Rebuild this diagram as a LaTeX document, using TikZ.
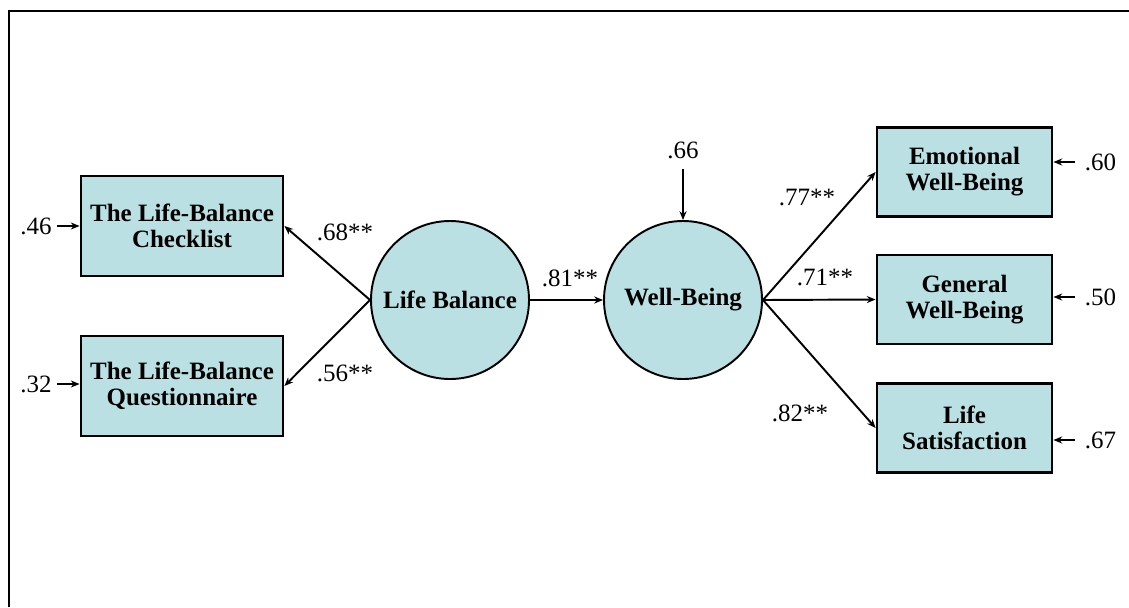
\documentclass[tikz,border=0pt]{standalone}
\usepackage{fontspec}
\setmainfont{Liberation Serif}
\usetikzlibrary{arrows.meta}
\definecolor{boxfill}{RGB}{187,224,227}

\begin{document}
\begin{tikzpicture}[>={Stealth[length=5pt,width=4pt]},
  font=\fontsize{14.2pt}{14.8pt}\selectfont,
  obs/.style={draw, line width=1.6pt, fill=boxfill, rectangle, align=center, inner sep=0pt,
    font=\fontsize{14.2pt}{14.8pt}\selectfont\bfseries},
  lat/.style={draw, line width=1.1pt, fill=boxfill, circle, minimum size=3.16cm, inner sep=0pt,
    font=\fontsize{14.2pt}{14.8pt}\selectfont\bfseries},
  link/.style={->, line width=1.1pt},
  err/.style={->, line width=0.8pt}]
\useasboundingbox (0,0) rectangle (22.58,12.14);

% frame
\draw[line width=1.2pt] (0.18,0) -- (0.18,11.92) -- (22.58,11.92);

% indicators
\node[obs, minimum width=4.04cm, minimum height=2cm] (chk) at (3.64,7.62) {The Life-Balance\\Checklist};
\node[obs, minimum width=4.04cm, minimum height=2cm] (qst) at (3.64,4.42) {The Life-Balance\\Questionnaire};
\node[obs, minimum width=3.5cm, minimum height=1.78cm] (emo) at (19.29,8.70) {Emotional\\Well-Being};
\node[obs, minimum width=3.5cm, minimum height=1.78cm] (gen) at (19.29,6.15) {General\\Well-Being};
\node[obs, minimum width=3.5cm, minimum height=1.78cm] (sat) at (19.29,3.58) {Life\\Satisfaction};

% latent variables
\node[lat] (lb) at (9.0,6.14) {Life Balance};
\node[lat] (wb) at (13.66,6.14) {Well-Being};

\draw[link] (lb.west) -- (chk.east);
\draw[link] (lb.west) -- (qst.east);
\draw[link] (lb) -- (wb);
\draw[link] (wb.east) -- (emo.west);
\draw[link] (wb.east) -- (gen.west);
\draw[link] (wb.east) -- (sat.west);

% loadings
\node (l68) at (6.9,7.5) {.68**};
\node (l56) at (6.9,4.68) {.56**};
\node (l81) at (11.4,6.58) {.81**};
\node (l77) at (16.14,8.18) {.77**};
\node (l71) at (16.5,6.6) {.71**};
\node (l82) at (16.0,3.88) {.82**};

% residuals
\node[inner sep=3pt] (e46) at (0.72,7.62) {.46};
\node[inner sep=3pt] (e32) at (0.72,4.46) {.32};
\node[inner sep=6pt] (e66) at (13.66,9.14) {.66};
\node[inner sep=5.5pt] (e60) at (22.01,8.9) {.60};
\node[inner sep=5.5pt] (e50) at (22.01,6.2) {.50};
\node[inner sep=5.5pt] (e67) at (22.01,3.34) {.67};

\draw[err] (e46.east) -- (e46.east -| chk.west);
\draw[err] (e32.east) -- (e32.east -| qst.west);
\draw[err] (e66) -- (wb);
\draw[err] (e60.west) -- (e60.west -| emo.east);
\draw[err] (e50.west) -- (e50.west -| gen.east);
\draw[err] (e67.west) -- (e67.west -| sat.east);
\end{tikzpicture}
\end{document}
